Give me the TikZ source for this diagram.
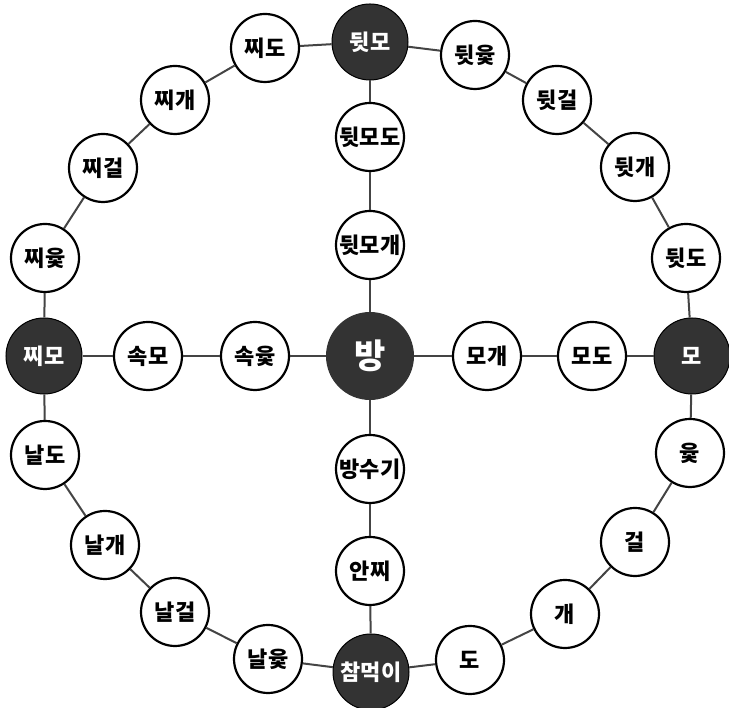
\documentclass[tikz,border=0pt]{standalone}
\usepackage{fontspec}
\newfontfamily\kfont{Noto Sans CJK KR}
\usepackage{tikz}
\usetikzlibrary{positioning}

\definecolor{spotdark}{HTML}{333333}
\definecolor{linkgray}{HTML}{444444}

\begin{document}
\begin{tikzpicture}[
  x=1pt, y=1pt,
  wspot/.style = {circle, draw=black, line width=2.2pt, fill=white,
                  minimum size=68pt, inner sep=0pt,
                  font=\kfont\bfseries\fontsize{22}{22}\selectfont},
  dspot/.style = {circle, draw=black, line width=1pt, fill=spotdark,
                  text=white, minimum size=76pt, inner sep=0pt,
                  font=\kfont\bfseries\fontsize{22}{22}\selectfont},
  hub/.style   = {circle, fill=spotdark, text=white, minimum size=88pt,
                  inner sep=0pt, font=\kfont\bfseries\fontsize{34}{34}\selectfont},
  lnk/.style   = {draw=linkgray, line width=2pt},
]
\useasboundingbox (0,0) rectangle (729,708);

%% -- outer ring ----------------------------------------------------------
\node[dspot] (dwitmo)    at (370, 666) {뒷모};
\node[wspot] (dwityut)   at (475, 653) {뒷윷};
\node[wspot] (dwitgeol)  at (557, 608) {뒷걸};
\node[wspot] (dwitgae)   at (635, 541) {뒷개};
\node[wspot] (dwitdo)    at (686, 450) {뒷도};
\node[dspot] (mo)        at (692, 352) {모};
\node[wspot] (yut)       at (690, 255) {윷};
\node[wspot] (geol)      at (635, 166) {걸};
\node[wspot] (gae)       at (565,  94) {개};
\node[wspot] (pdo)       at (470,  48) {도};
\node[dspot] (chammeogi) at (371,  36) {참먹이};
\node[wspot] (nalyut)    at (268,  49) {날윷};
\node[wspot] (nalgeol)   at (175,  96) {날걸};
\node[wspot] (nalgae)    at (105, 163) {날개};
\node[wspot] (naldo)     at ( 45, 253) {날도};
\node[dspot] (jjimo)     at ( 44, 352) {찌모};
\node[wspot] (jjiyut)    at ( 45, 450) {찌윷};
\node[wspot] (jjigeol)   at (103, 540) {찌걸};
\node[wspot] (jjigae)    at (175, 608) {찌개};
\node[wspot] (jjido)     at (265, 660) {찌도};

%% -- cross through the middle -------------------------------------------
\node[hub]   (bang)      at (370, 352) {방};
\node[wspot] (dmdo)      at (370, 571) {뒷모도};
\node[wspot] (dmgae)     at (370, 463) {뒷모개};
\node[wspot] (mogae)     at (487, 352) {모개};
\node[wspot] (modo)      at (592, 352) {모도};
\node[wspot] (sokyut)    at (255, 352) {속윷};
\node[wspot] (sokmo)     at (148, 352) {속모};
\node[wspot] (bangsugi)  at (370, 239) {방수기};
\node[wspot] (anjji)     at (370, 137) {안찌};

%% links: ring
\draw[lnk] (dwitmo) -- (dwityut);
\draw[lnk] (dwityut) -- (dwitgeol);
\draw[lnk] (dwitgeol) -- (dwitgae);
\draw[lnk] (dwitgae) -- (dwitdo);
\draw[lnk] (dwitdo) -- (mo);
\draw[lnk] (mo) -- (yut);
\draw[lnk] (yut) -- (geol);
\draw[lnk] (geol) -- (gae);
\draw[lnk] (gae) -- (pdo);
\draw[lnk] (pdo) -- (chammeogi);
\draw[lnk] (chammeogi) -- (nalyut);
\draw[lnk] (nalyut) -- (nalgeol);
\draw[lnk] (nalgeol) -- (nalgae);
\draw[lnk] (nalgae) -- (naldo);
\draw[lnk] (naldo) -- (jjimo);
\draw[lnk] (jjimo) -- (jjiyut);
\draw[lnk] (jjiyut) -- (jjigeol);
\draw[lnk] (jjigeol) -- (jjigae);
\draw[lnk] (jjigae) -- (jjido);
\draw[lnk] (jjido) -- (dwitmo);

%% links: cross
\draw[lnk] (dwitmo) -- (dmdo);
\draw[lnk] (dmdo) -- (dmgae);
\draw[lnk] (dmgae) -- (bang);
\draw[lnk] (bang) -- (mogae);
\draw[lnk] (mogae) -- (modo);
\draw[lnk] (modo) -- (mo);
\draw[lnk] (bang) -- (sokyut);
\draw[lnk] (sokyut) -- (sokmo);
\draw[lnk] (sokmo) -- (jjimo);
\draw[lnk] (bang) -- (bangsugi);
\draw[lnk] (bangsugi) -- (anjji);
\draw[lnk] (anjji) -- (chammeogi);

\end{tikzpicture}
\end{document}
